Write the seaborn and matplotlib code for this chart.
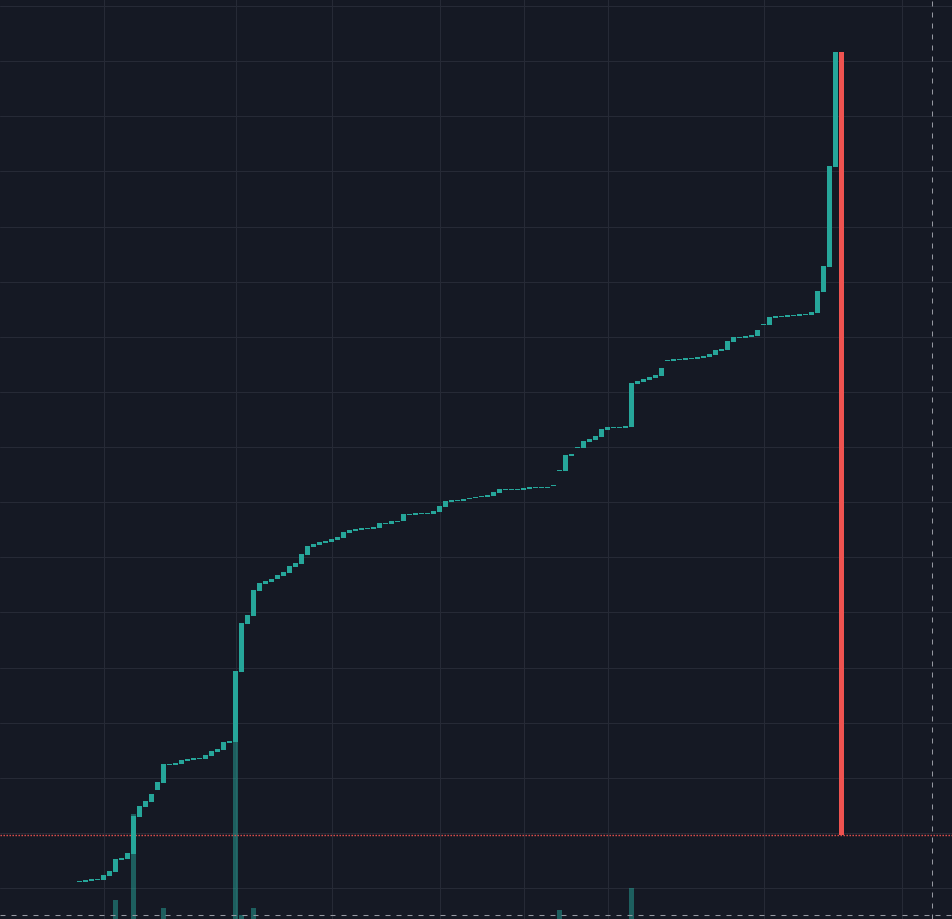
import numpy as np
import matplotlib
matplotlib.use('Agg')
from matplotlib import pyplot as plt
from matplotlib.colors import to_rgba
import seaborn as sns

# candle open / close (price units), one entry per bar
opens = [
    1.09, 1.09, 1.27, 1.45, 1.45, 2.18, 2.90, 5.08,
    5.26, 6.17, 12.88, 14.69, 15.60, 17.78, 19.05, 22.31,
    22.31, 22.49, 23.04, 23.22, 23.40, 23.40, 23.95, 24.67,
    25.03, 26.30, 26.49, 39.18, 47.89, 49.34, 53.88, 55.15,
    55.51, 56.06, 56.60, 57.14, 58.23, 58.78, 60.41, 61.86,
    62.22, 62.59, 62.77, 63.13, 63.49, 64.40, 64.76, 64.94,
    65.13, 65.13, 65.31, 66.03, 66.03, 66.40, 66.58, 67.67,
    67.67, 67.85, 67.85, 67.85, 68.21, 69.12, 70.02, 70.21,
    70.21, 70.57, 70.75, 70.93, 70.93, 71.11, 71.66, 72.20,
    72.20, 72.20, 72.20, 72.38, 72.56, 72.56, 72.56, 72.93,
    75.65, 75.65, 78.37, 79.82, 79.82, 80.91, 81.27, 81.82,
    83.09, 83.45, 83.45, 83.45, 83.63, 91.43, 91.79, 92.16,
    92.52, 92.88, 95.60, 95.60, 95.78, 95.78, 95.97, 95.97,
    96.15, 96.33, 96.69, 97.42, 97.60, 99.05, 99.78, 99.78,
    99.96, 100.14, 102.13, 102.13, 103.40, 103.59, 103.59, 103.77,
    103.77, 103.95, 103.95, 104.31, 108.12, 112.66, 130.80, 151.66,
]
closes = [
    1.27, 1.45, 1.63, 1.63, 2.36, 3.08, 5.26, 5.44,
    6.35, 13.06, 14.88, 15.78, 17.05, 19.23, 22.49, 22.49,
    22.68, 23.22, 23.40, 23.58, 23.58, 24.13, 24.85, 25.22,
    26.49, 26.67, 39.37, 48.07, 49.53, 54.06, 55.33, 55.69,
    56.06, 56.78, 57.33, 58.41, 58.96, 60.59, 62.04, 62.41,
    62.77, 62.95, 63.31, 63.67, 64.58, 64.94, 65.13, 65.31,
    65.31, 65.49, 66.21, 66.21, 66.58, 66.58, 67.85, 67.85,
    68.03, 68.03, 68.03, 68.39, 69.30, 70.21, 70.39, 70.39,
    70.57, 70.75, 70.93, 71.11, 71.29, 71.84, 72.38, 72.38,
    72.38, 72.38, 72.56, 72.75, 72.75, 72.75, 72.75, 73.11,
    75.83, 78.55, 78.73, 80.00, 81.09, 81.45, 82.00, 83.27,
    83.63, 83.63, 83.63, 83.81, 91.61, 91.97, 92.34, 92.70,
    93.06, 94.33, 95.78, 95.97, 95.97, 96.15, 96.15, 96.33,
    96.51, 96.87, 97.60, 97.78, 99.23, 99.96, 99.96, 100.14,
    100.32, 101.23, 102.32, 103.59, 103.77, 103.77, 103.95, 103.95,
    104.13, 104.13, 104.49, 108.30, 112.84, 130.98, 151.66, 9.61,
]
volumes = [
    0, 0, 0, 0, 0, 0, 19, 0, 0, 105, 0, 0, 0, 0, 11, 0,
    0, 0, 0, 0, 0, 0, 0, 0, 0, 0, 177, 4, 0, 11, 0, 0,
    0, 0, 0, 0, 0, 0, 0, 0, 0, 0, 0, 0, 0, 0, 0, 0,
    0, 0, 0, 0, 0, 0, 0, 0, 0, 0, 0, 0, 0, 0, 0, 0,
    0, 0, 0, 0, 0, 0, 0, 0, 0, 0, 0, 0, 0, 0, 0, 0,
    9, 0, 0, 0, 0, 0, 0, 0, 0, 0, 0, 0, 31, 0, 0, 0,
    0, 0, 0, 0, 0, 0, 0, 0, 0, 0, 0, 0, 0, 0, 0, 0,
    0, 0, 0, 0, 0, 0, 0, 0, 0, 0, 0, 0, 0, 0, 0, 0,
]
time_ticks = [4, 26, 42, 60, 74, 88, 114, 137]
price_ticks = list(range(0, 170, 10))
cross_x = 142
cross_y = -4.9

BG = '#151924'
GRID = '#262a36'
UP = '#26a69a'
DOWN = '#ef5350'
CROSS = '#9598a1'

sns.set_theme(style='darkgrid', rc={
    'axes.facecolor': BG,
    'figure.facecolor': BG,
    'grid.color': GRID,
    'grid.linewidth': 0.75,
})

fig = plt.figure(figsize=(9.52, 9.2), dpi=100)
ax = fig.add_axes([0, 0, 1, 1])

o = np.array(opens)
c = np.array(closes)
idx = np.arange(len(o))
up = c >= o
ymin, ymax = -5.62, 161.27

# volume pane at the bottom
vol = np.array(volumes, dtype=float)
vol_h = vol / vol.max() * 0.192 * (ymax - ymin)
vol_colors = [to_rgba(UP if u else DOWN, 0.5) for u in up]
ax.bar(idx, vol_h, bottom=ymin, width=5 / 6, color=vol_colors, linewidth=0, zorder=1)

# last price line
ax.axhline(closes[-1], color=DOWN, lw=1.0, linestyle=(0, (1.0, 1.16)), zorder=1.5)

# candle bodies
body_colors = [UP if u else DOWN for u in up]
ax.bar(idx, np.abs(c - o), bottom=np.minimum(o, c), width=5 / 6,
       color=body_colors, linewidth=0, zorder=2)

# crosshair
ax.axvline(cross_x, color=CROSS, lw=0.75, linestyle=(0, (4.8, 5.76)), zorder=3)
ax.axhline(cross_y, color=CROSS, lw=0.75, linestyle=(0, (4.8, 5.76)), zorder=3)

ax.set_xticks(time_ticks)
ax.set_yticks(price_ticks)
ax.tick_params(length=0, labelbottom=False, labelleft=False)
ax.set_axisbelow(True)
ax.grid(True, color=GRID, lw=0.75)
for s in ax.spines.values():
    s.set_visible(False)
ax.set_xlim(-79.5 / 6, (952 - 79.5) / 6)
ax.set_ylim(ymin, ymax)

fig.savefig('out.png', dpi=100, facecolor=BG)
plt.close(fig)
